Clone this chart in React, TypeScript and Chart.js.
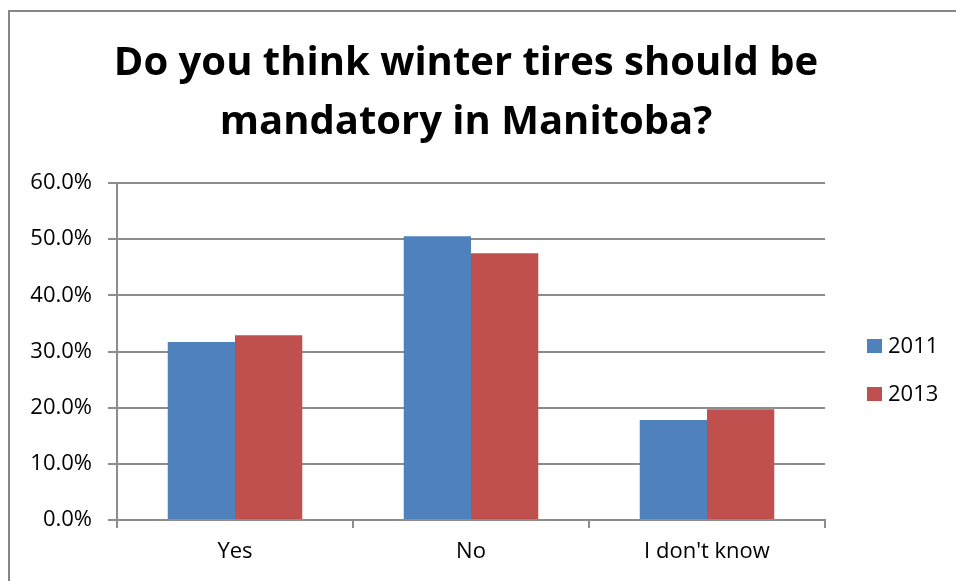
import React, { useEffect, useRef } from "react";
import { Chart, registerables } from "chart.js";

Chart.register(...registerables);

const categories = ["Yes", "No", "I don't know"];
const series2011 = [31.7, 50.5, 17.8];
const series2013 = [32.9, 47.5, 19.7];
const seriesLabels = ["2011", "2013"];
const seriesColors = ["#4F81BD", "#C0504D"];
const titleLines = ["Do you think winter tires should be", "mandatory in Manitoba?"];
const yTicks = [0, 10, 20, 30, 40, 50, 60];

const FONT = "'Open Sans', 'Noto Sans', sans-serif";

const titlePlugin = {
  id: "bigTitle",
  afterDraw(chart: any) {
    const ctx = chart.ctx;
    ctx.save();
    ctx.font = `bold 40px ${FONT}`;
    ctx.fillStyle = "#000";
    ctx.textAlign = "center";
    ctx.textBaseline = "alphabetic";
    const cx = 466;
    titleLines.forEach((line, i) => {
      ctx.fillText(line, cx, 75 + i * 59);
    });
    ctx.restore();
  },
};

const legendPlugin = {
  id: "sideLegend",
  afterDraw(chart: any) {
    const ctx = chart.ctx;
    const area = chart.chartArea;
    ctx.save();
    ctx.font = `22px ${FONT}`;
    ctx.textBaseline = "middle";
    ctx.textAlign = "left";
    const x = area.right + 42;
    const startY = 346;
    chart.data.datasets.forEach((ds: any, i: number) => {
      const cy = startY + i * 48;
      ctx.fillStyle = ds.backgroundColor;
      ctx.fillRect(x, cy - 7, 15, 14);
      ctx.fillStyle = "#000";
      ctx.fillText(ds.label, x + 21, cy + 1);
    });
    ctx.restore();
  },
};

export default function App() {
  const ref = useRef<HTMLCanvasElement | null>(null);
  useEffect(() => {
    if (!ref.current) return;
    const chart = new Chart(ref.current, {
      type: "bar",
      data: {
        labels: categories,
        datasets: [
          { label: seriesLabels[0], data: series2011, backgroundColor: seriesColors[0], categoryPercentage: 0.57, barPercentage: 1 },
          { label: seriesLabels[1], data: series2013, backgroundColor: seriesColors[1], categoryPercentage: 0.57, barPercentage: 1 },
        ],
      },
      options: {
        responsive: false,
        animation: false,
        layout: { padding: { left: 0, right: 131, top: 183, bottom: 0 } },
        plugins: {
          legend: { display: false },
          tooltip: { enabled: false },
          title: { display: false },
        },
        scales: {
          x: {
            afterFit(scale: any) {
              scale.height = 61;
            },
            grid: {
              display: true,
              drawOnChartArea: false,
              drawTicks: true,
              tickLength: 8,
              color: "#8c8c8c",
              lineWidth: 2,
              offset: true,
            },
            border: { display: true, color: "#8c8c8c", width: 2 },
            ticks: { color: "#000", font: { family: FONT, size: 22 }, padding: 11 },
          },
          y: {
            min: 0,
            max: 60,
            afterFit(scale: any) {
              scale.width = 117;
            },
            afterBuildTicks(scale: any) {
              scale.ticks = yTicks.map((v) => ({ value: v }));
            },
            grid: {
              color: "#8c8c8c",
              lineWidth: 2,
              drawTicks: true,
              tickLength: 9,
            },
            border: { display: true, color: "#8c8c8c", width: 2 },
            ticks: {
              color: "#000",
              font: { family: FONT, size: 22 },
              padding: 16,
              callback: (v: any) => Number(v).toFixed(1) + "%",
            },
          },
        },
      },
      plugins: [titlePlugin, legendPlugin],
    });
    return () => chart.destroy();
  }, []);

  return (
    <div style={{ position: "fixed", left: 0, top: 0, width: 956, height: 581, overflow: "hidden", background: "#fff" }}>
      <div
        style={{
          position: "absolute",
          left: 8,
          top: 10,
          width: 1000,
          height: 700,
          border: "2px solid #868686",
          boxSizing: "border-box",
        }}
      />
      <canvas ref={ref} width={956} height={581} style={{ position: "absolute", left: 0, top: 0 }} />
    </div>
  );
}
